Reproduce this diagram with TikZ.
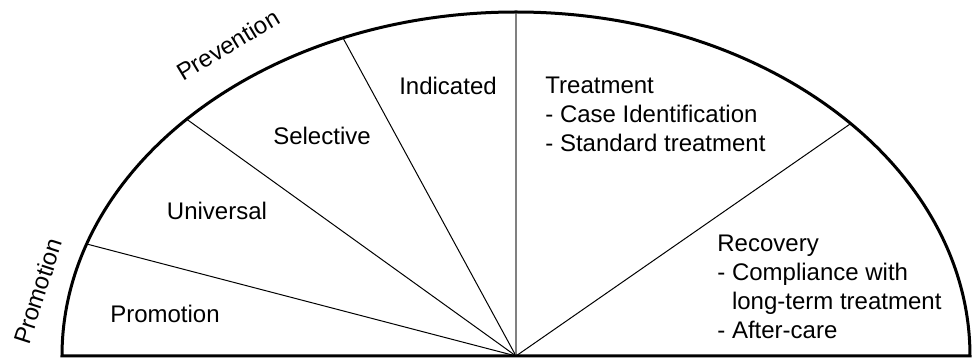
\documentclass[tikz,border=0pt]{standalone}
\usepackage{fontspec}
\setmainfont{Liberation Sans}
\begin{document}
\begin{tikzpicture}[x=0.5pt,y=0.5pt,
  spoke/.style={draw=black,line width=0.5pt},
  rim/.style={draw=black,line width=1.5pt},
  sector/.style={font=\fontsize{12}{14.5}\selectfont,inner sep=0pt},
  phase/.style={sector,align=left,anchor=north west}]
	\useasboundingbox (-516,-2) rectangle (458,356);
	\coordinate (hub) at (0,0);
	\coordinate (leftEnd) at (-454,0);
	\foreach \name/\ang in {promUni/161,uniSel/136.5,selInd/112.4,indTreat/90,treatRec/42.5}
		\coordinate (\name) at ({454*cos(\ang)},{344*sin(\ang)});

	\foreach \name in {promUni,uniSel,selInd,treatRec}
		\draw[spoke] (hub) -- (\name);
	\draw[spoke,draw=gray,line width=0.75pt] (hub) -- (indTreat);
	\draw[rim] (leftEnd) arc[start angle=180,end angle=0,x radius=227pt,y radius=172pt] -- cycle;

	\node[sector,anchor=base] (promLbl) at (-351,33) {Promotion};
	\node[sector,anchor=base] (uniLbl) at (-299,136) {Universal};
	\node[sector,anchor=base] (selLbl) at (-194,211) {Selective};
	\node[sector,anchor=base] (indLbl) at (-68,261) {Indicated};
	\node[phase] (treatLbl) at (29,279) {Treatment\\- Case Identification\\- Standard treatment};
	\node[phase] (recLbl) at (201,121) {Recovery\\- Compliance with\\\phantom{- }long-term treatment\\- After-care};

	\node[sector,rotate=31] (prevTag) at (-288,311) {Prevention};
	\node[sector,rotate=72] (promTag) at (-478,65) {Promotion};
\end{tikzpicture}
\end{document}
